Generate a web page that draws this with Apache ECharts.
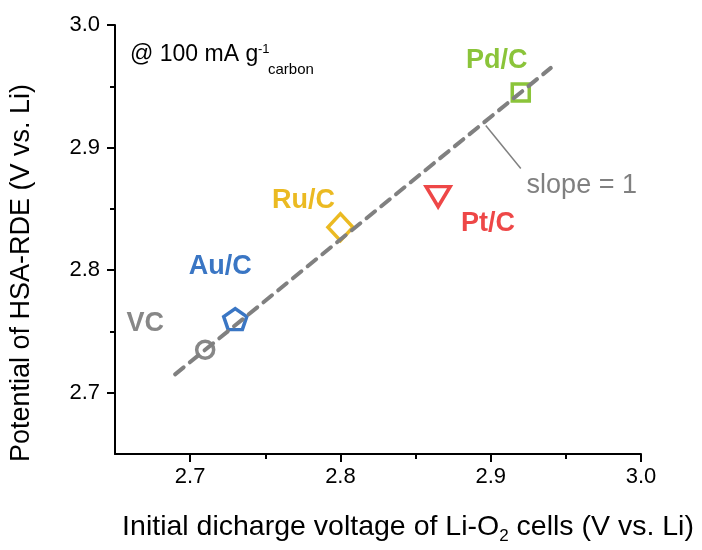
<!DOCTYPE html>
<html>
<head>
<meta charset="utf-8">
<script src="https://cdn.jsdelivr.net/npm/echarts@6/dist/echarts.min.js"></script>
<style>html,body{margin:0;padding:0;background:#fff}#c{width:702px;height:550px}</style>
</head>
<body>
<div id="c"></div>
<script>
// ---- data ----
const xRange = [2.65, 3.0];
const yRange = [2.65, 3.0];
const majorTicks = [2.7, 2.8, 2.9, 3.0];
const minorTicks = [2.75, 2.85, 2.95];
const catalysts = ['VC', 'Au/C', 'Ru/C', 'Pt/C', 'Pd/C'];
const dischargeV = [2.71, 2.73, 2.80, 2.865, 2.92];
const rdePotential = [2.735, 2.76, 2.835, 2.86, 2.945];
const slopeLineX = [2.69, 2.94];
const slopeLineY = [2.715, 2.965];
const pointerX = [2.8967, 2.92];
const pointerY = [2.918, 2.883];
const slopeText = 'slope = 1';

// ---- styles ----
const FONT = 'Arial, "Liberation Sans", sans-serif';
const colors = ['#878787', '#3a76c4', '#ebba22', '#ee4747', '#8bc43a'];
const pentagon = 'path://M50,0 L97.55,34.55 L79.39,90.45 L20.61,90.45 L2.45,34.55 Z';
const symbols = ['circle', pentagon, 'diamond', 'triangle', 'rect'];
const symbolSizes = [17, [23, 22], [25, 27], [24, 20], 17];
const symbolRotate = [0, 0, 0, 180, 0];
const labelOffsets = [[-60, -26], [-15, -53], [-37, -27], [50, 27], [-24, -32]];

const chart = echarts.init(document.getElementById('c'));

const pointSeries = catalysts.map((name, i) => ({
  name: name,
  type: 'scatter',
  xAxisIndex: 0, yAxisIndex: 0,
  symbol: symbols[i],
  symbolSize: symbolSizes[i],
  symbolRotate: symbolRotate[i],
  symbolKeepAspect: true,
  z: 2,
  itemStyle: { color: 'rgba(0,0,0,0)', borderColor: colors[i], borderWidth: 3.5, opacity: 1 },
  label: {
    show: true, position: 'inside', offset: labelOffsets[i],
    formatter: name, color: colors[i], fontSize: 27, fontWeight: 'bold', fontFamily: FONT
  },
  data: [[dischargeV[i], rdePotential[i]]]
}));

function axisCommon(range) {
  return { type: 'value', min: range[0], max: range[1], splitLine: { show: false } };
}

const option = {
  animation: false,
  backgroundColor: '#fff',
  grid: { left: 115, right: 61, top: 25, bottom: 96 },
  xAxis: [
    Object.assign(axisCommon(xRange), {
      position: 'bottom',
      axisLine: { show: true, lineStyle: { color: '#000', width: 2 } },
      axisTick: { show: true, customValues: majorTicks, length: 8, lineStyle: { color: '#000', width: 2 } },
      axisLabel: { customValues: majorTicks, formatter: v => v.toFixed(1), fontSize: 22, color: '#000', margin: 12, fontFamily: FONT }
    }),
    Object.assign(axisCommon(xRange), {
      position: 'bottom', offset: 0,
      axisLine: { show: false },
      axisTick: { show: true, customValues: minorTicks, length: 5, lineStyle: { color: '#000', width: 2 } },
      axisLabel: { show: false }
    })
  ],
  yAxis: [
    Object.assign(axisCommon(yRange), {
      position: 'left',
      axisLine: { show: true, lineStyle: { color: '#000', width: 2 } },
      axisTick: { show: true, customValues: majorTicks, length: 8, lineStyle: { color: '#000', width: 2 } },
      axisLabel: { customValues: majorTicks, formatter: v => v.toFixed(1), fontSize: 22, color: '#000', margin: 15, fontFamily: FONT }
    }),
    Object.assign(axisCommon(yRange), {
      position: 'left', offset: 0,
      axisLine: { show: false },
      axisTick: { show: true, customValues: minorTicks, length: 5, lineStyle: { color: '#000', width: 2 } },
      axisLabel: { show: false }
    })
  ],
  series: [
    ...pointSeries,
    {
      name: 'slope', type: 'line', xAxisIndex: 0, yAxisIndex: 0,
      symbol: 'none', z: 3,
      lineStyle: { color: '#808080', width: 4, type: [11, 8], cap: 'round' },
      data: slopeLineX.map((x, i) => [x, slopeLineY[i]])
    },
    {
      name: 'pointer', type: 'line', xAxisIndex: 0, yAxisIndex: 0,
      symbol: 'circle', symbolSize: 1, showSymbol: true, z: 3,
      itemStyle: { color: 'rgba(0,0,0,0)' },
      lineStyle: { color: '#808080', width: 1.5 },
      label: { show: false },
      data: [
        [pointerX[0], pointerY[0]],
        { value: [pointerX[1], pointerY[1]],
          label: { show: true, position: 'inside', offset: [61, 17], formatter: slopeText,
                   color: '#808080', fontSize: 27, fontFamily: FONT } }
      ]
    }
  ],
  graphic: [
    { type: 'text', left: 130, top: 43, style: { text: '@ 100 mA g', font: '23px ' + FONT, fill: '#000' } },
    { type: 'text', left: 258, top: 43, style: { text: '-1', font: '13px ' + FONT, fill: '#000' } },
    { type: 'text', left: 268, top: 62, style: { text: 'carbon', font: '15px ' + FONT, fill: '#000' } },
    { type: 'text', x: 408, y: 527,
      style: { text: '{t|Initial dicharge voltage of Li-O}{s|2}{t| cells (V vs. Li)}', align: 'center', verticalAlign: 'middle',
        rich: { t: { fontSize: 28.5, fontFamily: FONT, color: '#000' },
                s: { fontSize: 17, fontFamily: FONT, color: '#000', padding: [18, 0, 0, 0] } } } },
    { type: 'text', x: 22, y: 273, rotation: Math.PI / 2,
      style: { text: 'Potential of HSA-RDE (V vs. Li)', align: 'center', verticalAlign: 'middle',
        font: '27px ' + FONT, fill: '#000' } }
  ]
};
chart.setOption(option);
</script>
</body>
</html>
